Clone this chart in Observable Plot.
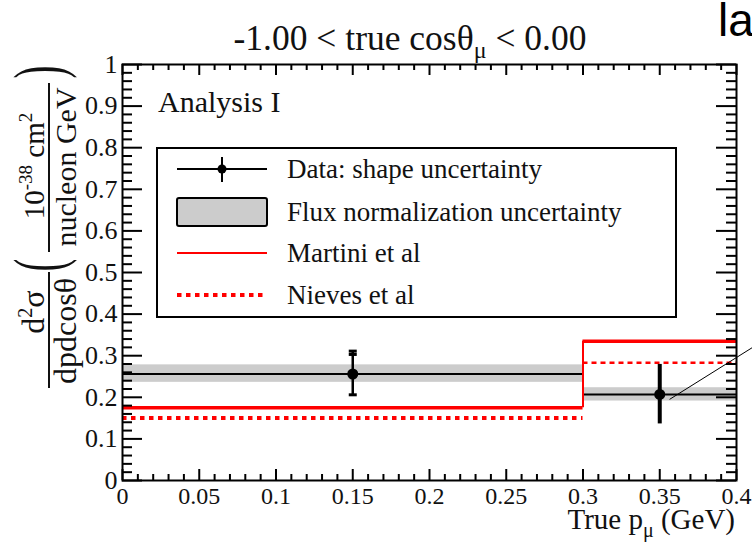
<!DOCTYPE html>
<html><head><meta charset="utf-8">
<script src="https://cdn.jsdelivr.net/npm/d3@7"></script>
<script src="https://cdn.jsdelivr.net/npm/@observablehq/plot@0.6"></script>
<style>html,body{margin:0;padding:0;background:#fff;overflow:hidden}</style>
</head><body><div id="chart"></div>
<script>
// ---- data ----
const binLow = [0, 0.3];
const binHigh = [0.3, 0.4];
const binCenter = [0.15, 0.35];
const dataValue = [0.256, 0.207];
const shapeLow = [0.206, 0.136];
const shapeHigh = [0.311, 0.279];
const fluxLow = [0.236, 0.191];
const fluxHigh = [0.278, 0.223];
const martini = [0.175, 0.335];
const nieves = [0.150, 0.283];
const capX = [0.15, 0.15, 0.15];
const capY = [0.311, 0.303, 0.206];
const pointerStart = [0.3564, 0.195];
const pointerEnd = [0.4417, 0.392];
const xTickValues = [0, 0.05, 0.1, 0.15, 0.2, 0.25, 0.3, 0.35, 0.4];
const xTickLabels = ["0", "0.05", "0.1", "0.15", "0.2", "0.25", "0.3", "0.35", "0.4"];
const yTickValues = [0, 0.1, 0.2, 0.3, 0.4, 0.5, 0.6, 0.7, 0.8, 0.9, 1];
const yTickLabels = ["0", "0.1", "0.2", "0.3", "0.4", "0.5", "0.6", "0.7", "0.8", "0.9", "1"];
const legendLabels = ["Data: shape uncertainty", "Flux normalization uncertainty", "Martini et al", "Nieves et al"];
const xMinorTicks = d3.range(0, 0.4001, 0.01).filter(v => !xTickValues.some(t => Math.abs(t - v) < 1e-6));
const yMinorTicks = d3.range(0, 1.0001, 0.02).filter(v => !yTickValues.some(t => Math.abs(t - v) < 1e-6));

const bins = binLow.map((x1, i) => ({
  x1, x2: binHigh[i], xc: binCenter[i], v: dataValue[i],
  lo: shapeLow[i], hi: shapeHigh[i], fl: fluxLow[i], fh: fluxHigh[i],
  m: martini[i], n: nieves[i]
}));
const caps = capX.map((x, i) => ({x, y: capY[i]}));
const connector = [{x: binLow[1], y1: martini[0], y2: martini[1]}];
const pointer = [{x1: pointerStart[0], y1: pointerStart[1], x2: pointerEnd[0], y2: pointerEnd[1]}];

const W = 752, H = 549, mL = 122, mR = 16, mT = 64, mB = 69;
const pW = W - mL - mR, pH = H - mT - mB;
const FONT = "'Liberation Serif', 'DejaVu Serif', serif";
const capSymbol = {draw(ctx, size) { const r = Math.sqrt(size / Math.PI); ctx.moveTo(-r, 0); ctx.lineTo(r, 0); }};

const plot = Plot.plot({
  width: W, height: H,
  marginLeft: mL, marginRight: mR, marginTop: mT, marginBottom: mB,
  style: {fontFamily: FONT, background: "white", overflow: "hidden"},
  x: {domain: [0, 0.4]},
  y: {domain: [0, 1]},
  marks: [
    Plot.rect(bins, {x1: "x1", x2: "x2", y1: "fl", y2: "fh", fill: "#cccccc"}),
    Plot.ruleY(bins, {x1: "x1", x2: "x2", y: "v", stroke: "black", strokeWidth: 2}),
    Plot.ruleY(bins, {x1: "x1", x2: "x2", y: "m", stroke: "#ff0000", strokeWidth: 3.5}),
    Plot.ruleX(connector, {x: "x", y1: "y1", y2: "y2", stroke: "#ff0000", strokeWidth: 2}),
    Plot.ruleY(bins.slice(0, 1), {x1: "x1", x2: "x2", y: "n", stroke: "#ff0000", strokeWidth: 4, strokeDasharray: "4.5,4.5"}),
    Plot.ruleY(bins.slice(1), {x1: "x1", x2: "x2", y: "n", stroke: "#ff0000", strokeWidth: 2.5, strokeDasharray: "5,4"}),
    Plot.ruleX(bins.slice(0, 1), {x: "xc", y1: "lo", y2: "hi", stroke: "black", strokeWidth: 2.5}),
    Plot.ruleX(bins.slice(1), {x: "xc", y1: "lo", y2: "hi", stroke: "black", strokeWidth: 4}),
    Plot.dot(caps, {x: "x", y: "y", r: 4, symbol: capSymbol, stroke: "black", strokeWidth: 3, fill: "none"}),
    Plot.dot(bins, {x: "xc", y: "v", r: 5.5, fill: "black", stroke: "none"}),
    Plot.link(pointer, {x1: "x1", y1: "y1", x2: "x2", y2: "y2", stroke: "black", strokeWidth: 1}),
    // ROOT-style inward ticks on all four sides
    Plot.tickY(yTickValues, {y: d => d, insetRight: pW - 20, strokeWidth: 2, stroke: "black"}),
    Plot.tickY(yMinorTicks, {y: d => d, insetRight: pW - 10, strokeWidth: 2, stroke: "black"}),
    Plot.tickY(yTickValues, {y: d => d, insetLeft: pW - 20, strokeWidth: 2, stroke: "black"}),
    Plot.tickY(yMinorTicks, {y: d => d, insetLeft: pW - 10, strokeWidth: 2, stroke: "black"}),
    Plot.tickX(xTickValues, {x: d => d, insetTop: pH - 11, strokeWidth: 2, stroke: "black"}),
    Plot.tickX(xMinorTicks, {x: d => d, insetTop: pH - 6, strokeWidth: 2, stroke: "black"}),
    Plot.tickX(xTickValues, {x: d => d, insetBottom: pH - 11, strokeWidth: 2, stroke: "black"}),
    Plot.tickX(xMinorTicks, {x: d => d, insetBottom: pH - 6, strokeWidth: 2, stroke: "black"}),
    Plot.axisX({ticks: xTickValues, tickFormat: d => xTickLabels[xTickValues.indexOf(d)], tickSize: 0, tickPadding: 6, fontSize: 24, label: null, fill: "#111"}),
    Plot.axisY({ticks: yTickValues, tickFormat: d => yTickLabels[yTickValues.indexOf(d)], tickSize: 0, tickPadding: 5, fontSize: 26, label: null, fill: "#111"}),
    Plot.frame({stroke: "black", strokeWidth: 2})
  ]
});

const svg = d3.select(plot);
const g = svg.append("g").attr("font-family", FONT).attr("fill", "#111").attr("text-anchor", "start");

// Title
const t = g.append("text").attr("x", 410).attr("y", 50).attr("text-anchor", "middle").attr("font-size", 35.5);
t.append("tspan").text("-1.00 < true cosθ");
t.append("tspan").attr("dy", 8).attr("font-size", 24).text("μ");
t.append("tspan").attr("dy", -8).text(" < 0.00");

// Cropped sans label at top right
g.append("text").attr("x", 718).attr("y", 36).attr("font-family", "'Liberation Sans', Arial, sans-serif")
  .attr("font-size", 46).attr("fill", "#000").text("la");

// Analysis I
g.append("text").attr("x", 158).attr("y", 112).attr("font-size", 30).text("Analysis I");

// X axis title
const xt = g.append("text").attr("x", 735).attr("y", 529).attr("text-anchor", "end").attr("font-size", 29);
xt.append("tspan").text("True p");
xt.append("tspan").attr("dy", 8).attr("font-size", 20).text("μ");
xt.append("tspan").attr("dy", -8).text(" (GeV)");

// Y axis title (rotated fraction layout)
function rot(x, y) { return `translate(${x},${y}) rotate(-90)`; }
const n1 = g.append("text").attr("transform", rot(44, 312)).attr("text-anchor", "middle").attr("font-size", 32);
n1.append("tspan").text("d");
n1.append("tspan").attr("dy", -12).attr("font-size", 20).text("2");
n1.append("tspan").attr("dy", 12).text("σ");
g.append("line").attr("x1", 49).attr("x2", 49).attr("y1", 272).attr("y2", 388).attr("stroke", "#111").attr("stroke-width", 2);
g.append("text").attr("transform", rot(76, 331)).attr("text-anchor", "middle").attr("font-size", 32).text("dpdcosθ");
g.append("text").attr("transform", rot(62, 265) + " scale(0.55,1)").attr("text-anchor", "middle").attr("font-size", 70).text("(");
const n2 = g.append("text").attr("transform", rot(44, 166)).attr("text-anchor", "middle").attr("font-size", 29);
n2.append("tspan").text("10");
n2.append("tspan").attr("dy", -12).attr("font-size", 19).text("-38");
n2.append("tspan").attr("dy", 12).text(" cm");
n2.append("tspan").attr("dy", -12).attr("font-size", 19).text("2");
g.append("line").attr("x1", 49).attr("x2", 49).attr("y1", 83).attr("y2", 252).attr("stroke", "#111").attr("stroke-width", 2);
g.append("text").attr("transform", rot(76, 167)).attr("text-anchor", "middle").attr("font-size", 30).text("nucleon GeV");
g.append("text").attr("transform", rot(62, 72) + " scale(0.55,1)").attr("text-anchor", "middle").attr("font-size", 70).text(")");

// Legend
const lg = svg.append("g").attr("font-family", FONT).attr("text-anchor", "start");
lg.append("rect").attr("x", 157).attr("y", 148).attr("width", 519).attr("height", 169)
  .attr("fill", "white").attr("stroke", "black").attr("stroke-width", 2);
const rows = [169, 212, 253, 295];
lg.append("line").attr("x1", 177).attr("x2", 267).attr("y1", rows[0]).attr("y2", rows[0]).attr("stroke", "black").attr("stroke-width", 2);
lg.append("line").attr("x1", 222).attr("x2", 222).attr("y1", rows[0] - 12).attr("y2", rows[0] + 13).attr("stroke", "black").attr("stroke-width", 2);
lg.append("circle").attr("cx", 222).attr("cy", rows[0]).attr("r", 4.5).attr("fill", "black");
lg.append("rect").attr("x", 177).attr("y", rows[1] - 14).attr("width", 90).attr("height", 28).attr("rx", 2)
  .attr("fill", "#cccccc").attr("stroke", "black").attr("stroke-width", 2);
lg.append("line").attr("x1", 177).attr("x2", 267).attr("y1", rows[2]).attr("y2", rows[2]).attr("stroke", "#ff0000").attr("stroke-width", 2);
lg.append("line").attr("x1", 177).attr("x2", 267).attr("y1", rows[3]).attr("y2", rows[3]).attr("stroke", "#ff0000").attr("stroke-width", 4).attr("stroke-dasharray", "4.5,4.5");
legendLabels.forEach((s, i) => {
  lg.append("text").attr("x", 287).attr("y", rows[i] + 9).attr("font-size", 27).attr("fill", "#111").text(s);
});

document.getElementById("chart").appendChild(plot);
</script>
</body></html>
